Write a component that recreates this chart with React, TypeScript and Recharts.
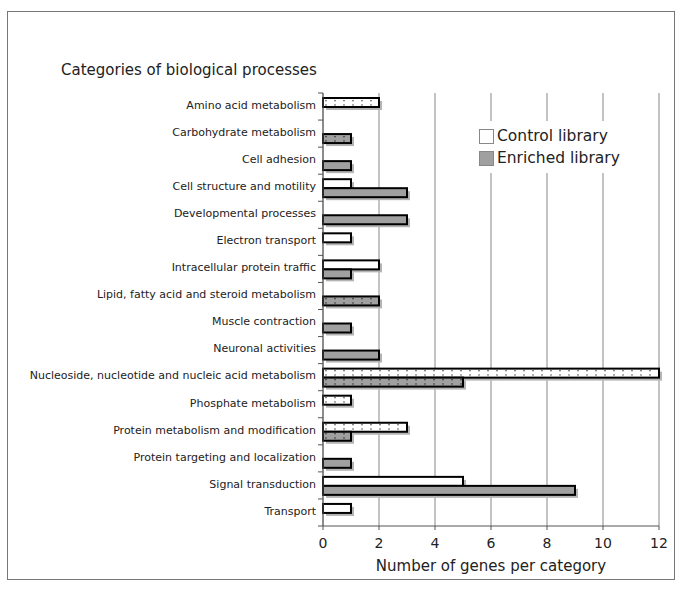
import { BarChart, Bar, XAxis, YAxis, CartesianGrid, Legend } from 'recharts'

const categories = [
  'Amino acid metabolism',
  'Carbohydrate metabolism',
  'Cell adhesion',
  'Cell structure and motility',
  'Developmental processes',
  'Electron transport',
  'Intracellular protein traffic',
  'Lipid, fatty acid and steroid metabolism',
  'Muscle contraction',
  'Neuronal activities',
  'Nucleoside, nucleotide and nucleic acid metabolism',
  'Phosphate metabolism',
  'Protein metabolism and modification',
  'Protein targeting and localization',
  'Signal transduction',
  'Transport',
]
const control = [2, 0, 0, 1, 0, 1, 2, 0, 0, 0, 12, 1, 3, 0, 5, 1]
const enriched = [0, 1, 1, 3, 3, 0, 1, 2, 1, 2, 5, 0, 1, 1, 9, 0]
// bars drawn with the dotted fill in the original
const controlDotted = [true, false, false, false, false, false, false, false, false, false, true, true, true, false, false, false]
const enrichedDotted = [false, true, false, false, false, false, false, true, false, false, true, false, true, false, false, false]
const xTicks = [0, 2, 4, 6, 8, 10, 12]

const data = categories.map((name, i) => ({
  name,
  control: control[i],
  enriched: enriched[i],
  cDot: controlDotted[i],
  eDot: enrichedDotted[i],
}))

const FONT = '"DejaVu Sans", Verdana, sans-serif'
const PLOT_TOP = 93
const PLOT_BOTTOM = 526
const BAND = (PLOT_BOTTOM - PLOT_TOP) / categories.length

function shadowBar(base: string, dotted: string, key: 'cDot' | 'eDot') {
  return (props: any) => {
    const { x, y, width, height, payload } = props
    if (!width || width <= 0) return <g />
    const fill = payload[key] ? dotted : base
    return (
      <g>
        <rect x={x + 3} y={y + 3} width={width} height={height} fill="#b4b4b4" />
        <rect x={x} y={y} width={width} height={height} fill={fill} stroke="#000" strokeWidth={2} />
      </g>
    )
  }
}

function CategoryTick({ x, y, payload, index }: any) {
  return (
    <g>
      <line x1={x - 5} x2={x} y1={y - BAND / 2} y2={y - BAND / 2} stroke="#555" />
      {index === categories.length - 1 && (
        <line x1={x - 5} x2={x} y1={y + BAND / 2} y2={y + BAND / 2} stroke="#555" />
      )}
      <text x={x - 7} y={y - 1} dy="0.3em" textAnchor="end" fontSize={11} fontFamily={FONT} fill="#222">
        {payload.value}
      </text>
    </g>
  )
}

function LegendBox({ payload }: any) {
  return (
    <div style={{ background: '#fff', padding: '4px 4px', fontFamily: FONT, fontSize: 15.5, color: '#222' }}>
      {(payload || []).map((p: any) => (
        <div key={p.value} style={{ display: 'flex', alignItems: 'center', height: 22 }}>
          <span
            style={{
              display: 'inline-block',
              width: 13,
              height: 13,
              background: p.color,
              border: '1px solid #888',
              marginRight: 3,
            }}
          />
          {p.value}
        </div>
      ))}
    </div>
  )
}

export default function App() {
  return (
    <div style={{ position: 'absolute', left: 0, top: 0, width: 685, height: 590, background: '#fff' }}>
      <svg width={0} height={0} style={{ position: 'absolute' }}>
        <defs>
          <pattern id="dotWhite" patternUnits="userSpaceOnUse" width={9} height={4.5}>
            <rect width={9} height={4.5} fill="#fff" />
            <circle cx={2} cy={1.5} r={0.7} fill="#000" />
          </pattern>
          <pattern id="dotGray" patternUnits="userSpaceOnUse" width={9} height={4.5}>
            <rect width={9} height={4.5} fill="#a0a0a0" />
            <circle cx={2} cy={1.5} r={0.7} fill="#000" />
          </pattern>
        </defs>
      </svg>
      <div
        style={{
          position: 'absolute',
          left: 7,
          top: 11,
          width: 666,
          height: 567,
          border: '1px solid #777',
        }}
      />
      <div
        style={{
          position: 'absolute',
          left: 61,
          top: 61,
          fontFamily: FONT,
          fontSize: 15,
          color: '#222',
          whiteSpace: 'nowrap',
        }}
      >
        Categories of biological processes
      </div>
      <div style={{ position: 'absolute', left: 0, top: 0 }}>
        <BarChart
          width={685}
          height={590}
          data={data}
          layout="vertical"
          margin={{ top: PLOT_TOP, right: 26, bottom: 16, left: 23 }}
          barSize={9}
          barGap={0}
        >
          <CartesianGrid horizontal={false} stroke="#888" />
          <XAxis
            type="number"
            domain={[0, 12]}
            ticks={xTicks}
            height={48}
            tickSize={4}
            tickMargin={8}
            stroke="#555"
            tick={{ fontSize: 14, fontFamily: FONT, fill: '#222' }}
            label={{
              value: 'Number of genes per category',
              position: 'insideBottom',
              offset: 3,
              fontSize: 15,
              fontFamily: FONT,
              fill: '#222',
            }}
          />
          <YAxis
            type="category"
            dataKey="name"
            width={300}
            tickLine={false}
            tickSize={0}
            tickMargin={0}
            stroke="#555"
            interval={0}
            tick={<CategoryTick />}
          />
          <Legend
            layout="vertical"
            align="center"
            verticalAlign="middle"
            content={<LegendBox />}
            wrapperStyle={{ left: 475, top: 121, width: 'auto' }}
          />
          <Bar
            dataKey="control"
            name="Control library"
            fill="#fff"
            isAnimationActive={false}
            shape={shadowBar('#fff', 'url(#dotWhite)', 'cDot')}
          />
          <Bar
            dataKey="enriched"
            name="Enriched library"
            fill="#a0a0a0"
            isAnimationActive={false}
            shape={shadowBar('#a0a0a0', 'url(#dotGray)', 'eDot')}
          />
        </BarChart>
      </div>
    </div>
  )
}
